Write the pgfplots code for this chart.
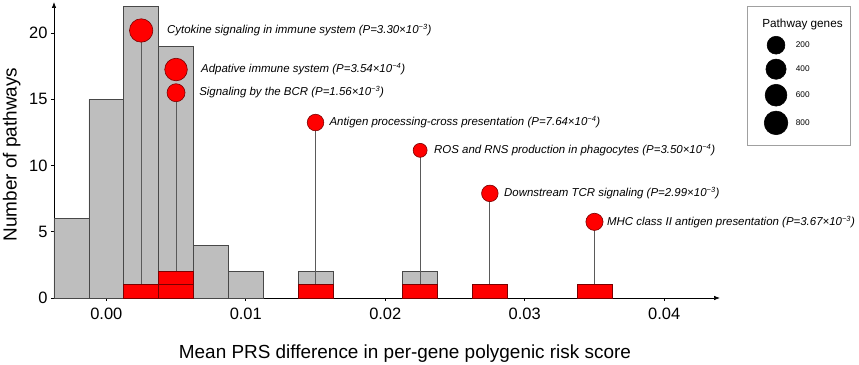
\documentclass[border=0pt]{standalone}
\usepackage{pgfplots}
\pgfplotsset{compat=1.18}
\usetikzlibrary{arrows.meta}
\usepackage{fontspec}
\setmainfont{Liberation Sans}
\definecolor{barg}{HTML}{BEBEBE}
\definecolor{edgeg}{HTML}{484848}
\definecolor{stemg}{HTML}{5A5A5A}
\definecolor{redbar}{HTML}{FF0000}
\definecolor{rededge}{HTML}{7A0000}
\definecolor{legedge}{HTML}{A0A0A0}
\newcommand{\sups}[1]{\textsuperscript{\fontsize{7.5}{8}\selectfont #1}}
\begin{document}
\begin{tikzpicture}
\useasboundingbox (-54bp,-67bp) rectangle (805bp,298bp);
\begin{axis}[
  scale only axis, width=666bp, height=296bp,
  xmin=-0.00375, xmax=0.044, ymin=0, ymax=22.35,
  axis x line=bottom, axis y line=left,
  axis line style={-{Latex[length=6bp,width=4.5bp]}, line width=0.7bp, black},
  xtick={0,0.01,0.02,0.03,0.04}, ytick={0,5,10,15,20},
  scaled x ticks=false,
  tick align=outside, major tick length=3bp,
  tick style={line width=0.6bp, black},
  tick label style={font=\fontsize{16.5}{19}\selectfont},
  xticklabel style={yshift=-4bp, /pgf/number format/.cd, fixed, fixed zerofill, precision=2, assume math mode=true},
  yticklabel style={/pgf/number format/assume math mode=true},
  xlabel={Mean PRS difference in per-gene polygenic risk score},
  ylabel={Number of pathways},
  label style={font=\fontsize{19}{22}\selectfont},
  xlabel style={at={(axis description cs:0.527,-0.206)}, anchor=base},
  ylabel style={at={(axis description cs:-0.056,0.485)}, anchor=base},
  clip=false,
  legend style={at={(1.1967,0.9865)}, anchor=north east, draw=legedge, line width=0.6bp,
    font=\fontsize{8.3}{10}\selectfont, row sep=5bp, inner xsep=6bp, inner ysep=11bp},
  legend cell align=left,
  legend image code/.code={\path (-13.5bp,0bp); \path (26bp,0bp); \draw[#1] plot coordinates {(8.5bp,0bp)};},
]
% gray histogram
\addplot[ybar, bar width=0.0025, bar shift=0pt, fill=barg, draw=edgeg, line width=0.6bp, forget plot]
  coordinates {(-0.0025,6) (0,15) (0.0025,22) (0.005,19) (0.0075,4) (0.01,2) (0.015,2) (0.0225,2)};
% stems
\addplot[ycomb, draw=stemg, line width=0.8bp, mark=none, forget plot]
  coordinates {(0.0025,20.2) (0.005,15.5) (0.015,13.25) (0.0225,11.15) (0.0275,7.9) (0.035,5.75)};
% red bars (one box per pathway)
\addplot[ybar, bar width=0.0025, bar shift=0pt, fill=redbar, draw=rededge, line width=0.6bp, forget plot]
  coordinates {(0.0025,1) (0.005,2) (0.015,1) (0.0225,1) (0.0275,1) (0.035,1)};
\addplot[ybar, bar width=0.0025, bar shift=0pt, fill=redbar, draw=rededge, line width=0.6bp, forget plot]
  coordinates {(0.005,1)};
% circles
\addplot[only marks, mark=*, mark size=11.7bp, mark options={fill=redbar, draw=rededge, line width=0.6bp}, forget plot] coordinates {(0.0025,20.2)};
\addplot[only marks, mark=*, mark size=11.3bp, mark options={fill=redbar, draw=rededge, line width=0.6bp}, forget plot] coordinates {(0.005,17.25)};
\addplot[only marks, mark=*, mark size=9bp, mark options={fill=redbar, draw=rededge, line width=0.6bp}, forget plot] coordinates {(0.005,15.5)};
\addplot[only marks, mark=*, mark size=8.3bp, mark options={fill=redbar, draw=rededge, line width=0.6bp}, forget plot] coordinates {(0.015,13.25)};
\addplot[only marks, mark=*, mark size=7bp, mark options={fill=redbar, draw=rededge, line width=0.6bp}, forget plot] coordinates {(0.0225,11.15)};
\addplot[only marks, mark=*, mark size=8.3bp, mark options={fill=redbar, draw=rededge, line width=0.6bp}, forget plot] coordinates {(0.0275,7.9)};
\addplot[only marks, mark=*, mark size=8.6bp, mark options={fill=redbar, draw=rededge, line width=0.6bp}, forget plot] coordinates {(0.035,5.75)};
% annotations
\begin{scope}[every node/.style={anchor=west, inner sep=0pt, font=\fontsize{11.5}{13}\selectfont\itshape}]
\node at (axis cs:0.00435,20.23) {Cytokine signaling in immune system (P=3.30×10\sups{−3})};
\node at (axis cs:0.00679,17.28) {Adpative immune system (P=3.54×10\sups{−4})};
\node at (axis cs:0.00665,15.55) {Signaling by the BCR (P=1.56×10\sups{−3})};
\node at (axis cs:0.01599,13.28) {Antigen processing-cross presentation (P=7.64×10\sups{−4})};
\node at (axis cs:0.02349,11.17) {ROS and RNS production in phagocytes (P=3.50×10\sups{−4})};
\node at (axis cs:0.02851,7.92) {Downstream TCR signaling (P=2.99×10\sups{−3})};
\node at (axis cs:0.03589,5.74) {MHC class II antigen presentation (P=3.67×10\sups{−3})};
\end{scope}
% legend
\addlegendimage{empty legend}
\addlegendentry{\hspace{-33.5bp}\fontsize{11.8}{14}\selectfont Pathway genes}
\addlegendimage{only marks, mark=*, mark size=8.9bp, black}
\addlegendentry{200}
\addlegendimage{only marks, mark=*, mark size=10.1bp, black}
\addlegendentry{400}
\addlegendimage{only marks, mark=*, mark size=10.9bp, black}
\addlegendentry{600}
\addlegendimage{only marks, mark=*, mark size=11.8bp, black}
\addlegendentry{800}
\end{axis}
\end{tikzpicture}
\end{document}
